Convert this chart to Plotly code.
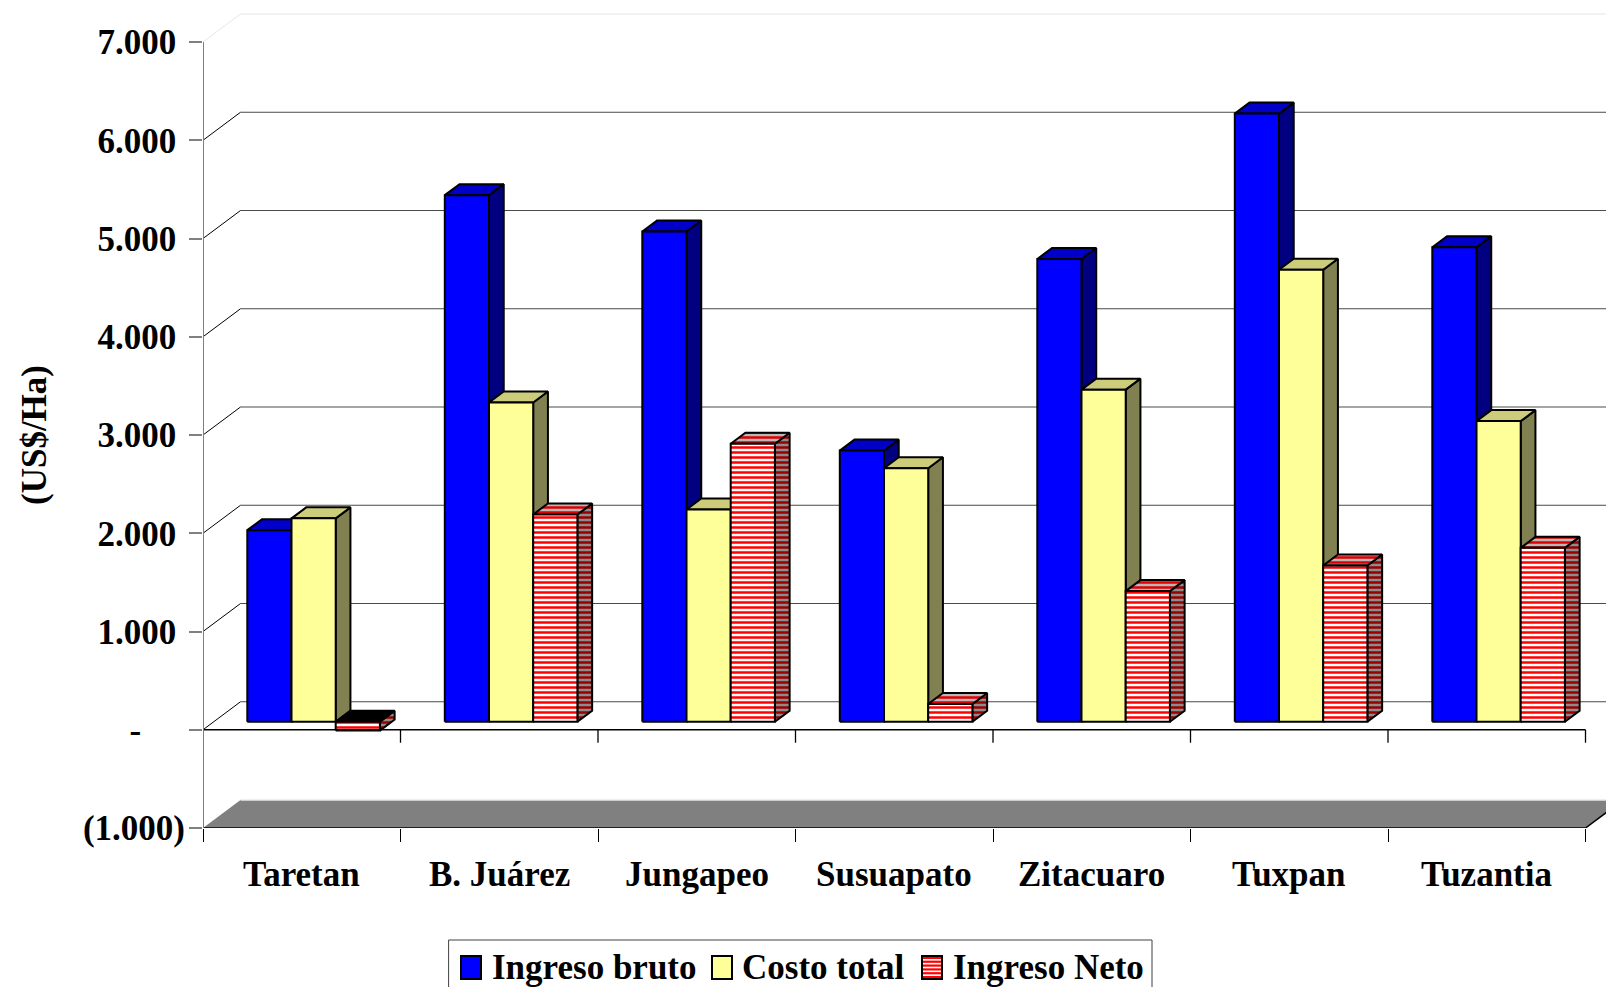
import plotly.graph_objects as go

# ---------------- data ----------------
categories = ["Taretan", "B. Juárez", "Jungapeo", "Susuapato", "Zitacuaro", "Tuxpan", "Tuzantia"]
ingreso_bruto = [1950, 5360, 4990, 2760, 4710, 6190, 4830]
costo_total = [2070, 3250, 2160, 2580, 3380, 4600, 3060]
ingreso_neto = [-90, 2110, 2830, 180, 1330, 1590, 1770]
series_names = ["Ingreso bruto", "Costo total", "Ingreso Neto"]
y_tick_values = [-1000, 0, 1000, 2000, 3000, 4000, 5000, 6000, 7000]
y_tick_labels = ["(1.000)", "-", "1.000", "2.000", "3.000", "4.000", "5.000", "6.000", "7.000"]
y_title = "(US$/Ha)"

# ---------------- geometry / style ----------------
W, H = 1606, 987
ML, MB, MT = 203, 159, 0
PX_PER_CAT = 197.5
PX_PER_UNIT = 0.09825
DEPTH_PX_X, DEPTH_PX_Y = 37.5, 28.0
DXc = DEPTH_PX_X / PX_PER_CAT
DYv = DEPTH_PX_Y / PX_PER_UNIT
D0, D1 = 8 / 28, 19 / 28
BAR_W = 44.2 / PX_PER_CAT
GAP = 44.3 / PX_PER_CAT - D0 * DXc
TICK_PX = 13
FONT = dict(family="Liberation Serif", size=35, color="black", weight="bold")

PLOT_H = H - MB - MT
PLOT_W = W - ML
ymin = y_tick_values[0]
ymax_plot = ymin + PLOT_H / PX_PER_UNIT
xmax_plot = PLOT_W / PX_PER_CAT
ncat = len(categories)

series_vals = [ingreso_bruto, costo_total, ingreso_neto]
face_styles = [
    # front, top, side
    [dict(fillcolor="#0000FF"), dict(fillcolor="#0000C8"), dict(fillcolor="#000080")],
    [dict(fillcolor="#FFFF99"), dict(fillcolor="#CCCC7A"), dict(fillcolor="#808050")],
    [dict(fillpattern=dict(shape="-", fgcolor="#FF0000", bgcolor="#FFFFFF", size=5, solidity=0.5, fillmode="replace")),
     dict(fillpattern=dict(shape="-", fgcolor="#E00000", bgcolor="#B8B8B8", size=5, solidity=0.5, fillmode="replace")),
     dict(fillpattern=dict(shape="-", fgcolor="#990000", bgcolor="#8C8C8C", size=5, solidity=0.5, fillmode="replace"))],
]
legend_colors = ["#0000FF", "#FFFF99", "#FFFFFF"]
legend_stripes = [None, None, "#FF0000"]
# legend layout in page pixels
LEG_BOX = (448.6, 940, 1152, 1010)
LEG_SQ_X = [461, 712, 922]
LEG_TXT_X = [489.6, 739.5, 950.5]
LEG_SQ_Y = (956, 979)
LEG_TXT_Y = 967

fig = go.Figure()


def proj(x, v, d):
    return x + d * DXc, v + d * DYv


def add_polys(polys, style, lw=2, lc="black"):
    xs, ys = [], []
    for p in polys:
        for (x, v) in p + [p[0]]:
            xs.append(x)
            ys.append(v)
        xs.append(None)
        ys.append(None)
    fig.add_trace(go.Scatter(x=xs, y=ys, mode="lines", fill="toself",
                             line=dict(color=lc, width=lw), hoverinfo="skip",
                             showlegend=False, **style))


def add_lines(segs, color, width):
    xs, ys = [], []
    for (a, b) in segs:
        xs += [a[0], b[0], None]
        ys += [a[1], b[1], None]
    fig.add_trace(go.Scatter(x=xs, y=ys, mode="lines", line=dict(color=color, width=width),
                             hoverinfo="skip", showlegend=False))


# floor at the axis minimum
floor = [proj(0, ymin, 0), proj(ncat, ymin, 0), proj(ncat, ymin, 1), proj(0, ymin, 1)]
add_polys([floor], dict(fillcolor="#808080"), lw=0, lc="rgba(0,0,0,0)")
add_lines([(proj(0, ymin, 1), proj(ncat + 1, ymin, 1))], "#E8E8E8", 1.5)
add_lines([(proj(0, ymin, 0), proj(ncat, ymin, 0)), (proj(ncat, ymin, 0), proj(ncat, ymin, 1))], "black", 1.5)

# back wall gridlines and left wall diagonals
grid_vals = [v for v in y_tick_values if v > ymin]
top_val = max(y_tick_values)
add_lines([(proj(0, v, 1), proj(ncat + 1, v, 1)) for v in grid_vals if v != top_val], "#4A4A4A", 1)
add_lines([(proj(0, v, 0), proj(0, v, 1)) for v in grid_vals if v != top_val], "black", 1)
add_lines([(proj(0, top_val, 1), proj(ncat + 1, top_val, 1)), (proj(0, top_val, 0), proj(0, top_val, 1))], "#E6E6E6", 1)

# 3D bars
for s, vals in enumerate(series_vals):
    fronts, tops, sides, neg_tops = [], [], [], []
    for c, val in enumerate(vals):
        x0 = c + GAP + s * BAR_W
        x1 = x0 + BAR_W
        lo, hi = min(0, val), max(0, val)
        fronts.append([proj(x0, lo, D0), proj(x1, lo, D0), proj(x1, hi, D0), proj(x0, hi, D0)])
        top = [proj(x0, hi, D0), proj(x1, hi, D0), proj(x1, hi, D1), proj(x0, hi, D1)]
        (neg_tops if val < 0 else tops).append(top)
        sides.append([proj(x1, lo, D0), proj(x1, lo, D1), proj(x1, hi, D1), proj(x1, hi, D0)])
    add_polys(sides, face_styles[s][2])
    add_polys(tops, face_styles[s][1])
    if neg_tops:
        add_polys(neg_tops, dict(fillcolor="black"))
    add_polys(fronts, face_styles[s][0])

# front category axis at zero, with tick marks
tick_len_v = TICK_PX / PX_PER_UNIT
add_lines([((0, 0), (ncat, 0))], "black", 1.3)
add_lines([((b, 0), (b, -tick_len_v)) for b in range(ncat + 1)], "black", 1.3)
# front value axis line
add_lines([((0, ymin), (0, top_val))], "#808080", 2)

# category labels and axis title
annotations = []
for c, cat in enumerate(categories):
    annotations.append(dict(x=c + 0.5, y=ymin, xref="x", yref="y", text=cat, showarrow=False,
                            yanchor="middle", xanchor="center", yshift=-46, font=FONT))
annotations.append(dict(x=0, y=(ymin + top_val) / 2, xref="paper", yref="y", text=y_title,
                        showarrow=False, textangle=-90, xanchor="center", yanchor="middle",
                        xshift=-(ML - 34), font=FONT))


def px_x(p):
    return (p - ML) / PLOT_W


def px_y(p):
    return (H - MB - p) / PLOT_H


# legend (drawn as a boxed key below the chart)
shapes = [dict(type="rect", xref="paper", yref="paper", x0=px_x(LEG_BOX[0]), x1=px_x(LEG_BOX[2]),
               y0=px_y(LEG_BOX[3]), y1=px_y(LEG_BOX[1]), line=dict(color="#404040", width=1),
               fillcolor="white", layer="above")]
for name, col, stripe, sx, tx in zip(series_names, legend_colors, legend_stripes, LEG_SQ_X, LEG_TXT_X):
    sq_w = 20
    shapes.append(dict(type="rect", xref="paper", yref="paper", x0=px_x(sx), x1=px_x(sx + sq_w),
                       y0=px_y(LEG_SQ_Y[1]), y1=px_y(LEG_SQ_Y[0]), fillcolor=col,
                       line=dict(width=0), layer="above"))
    if stripe:
        n_str = 6
        step = (LEG_SQ_Y[1] - LEG_SQ_Y[0]) / n_str
        for k in range(n_str):
            yy = LEG_SQ_Y[0] + step * (k + 0.5)
            shapes.append(dict(type="line", xref="paper", yref="paper", x0=px_x(sx), x1=px_x(sx + sq_w),
                               y0=px_y(yy), y1=px_y(yy), line=dict(color=stripe, width=2.2),
                               layer="above"))
    shapes.append(dict(type="rect", xref="paper", yref="paper", x0=px_x(sx), x1=px_x(sx + sq_w),
                       y0=px_y(LEG_SQ_Y[1]), y1=px_y(LEG_SQ_Y[0]), fillcolor="rgba(0,0,0,0)",
                       line=dict(color="black", width=2), layer="above"))
    annotations.append(dict(x=px_x(tx), y=px_y(LEG_TXT_Y), xref="paper", yref="paper", text=name,
                            showarrow=False, xanchor="left", yanchor="middle", font=FONT))


def padded(lbl, v):
    if v > 0:
        return lbl + "\u00a0"
    if v == 0:
        return lbl + "\u00a0" * 5
    return lbl


fig.update_layout(
    width=W, height=H,
    margin=dict(l=ML, r=0, t=MT, b=MB, autoexpand=False),
    paper_bgcolor="white", plot_bgcolor="white",
    showlegend=False,
    xaxis=dict(range=[0, xmax_plot], showgrid=False, zeroline=False, showline=False,
               tickmode="array", tickvals=list(range(ncat + 1)), ticks="outside",
               ticklen=TICK_PX, tickwidth=1.3, tickcolor="black", showticklabels=False),
    yaxis=dict(range=[ymin, ymax_plot], showgrid=False, zeroline=False, showline=False,
               tickmode="array", tickvals=y_tick_values,
               ticktext=[padded(l, v) for l, v in zip(y_tick_labels, y_tick_values)],
               ticks="outside", ticklen=TICK_PX, tickwidth=2, tickcolor="#808080",
               tickfont=FONT, ticklabelstandoff=-3),
    annotations=annotations,
    shapes=shapes,
)

fig.write_html("out.html")
